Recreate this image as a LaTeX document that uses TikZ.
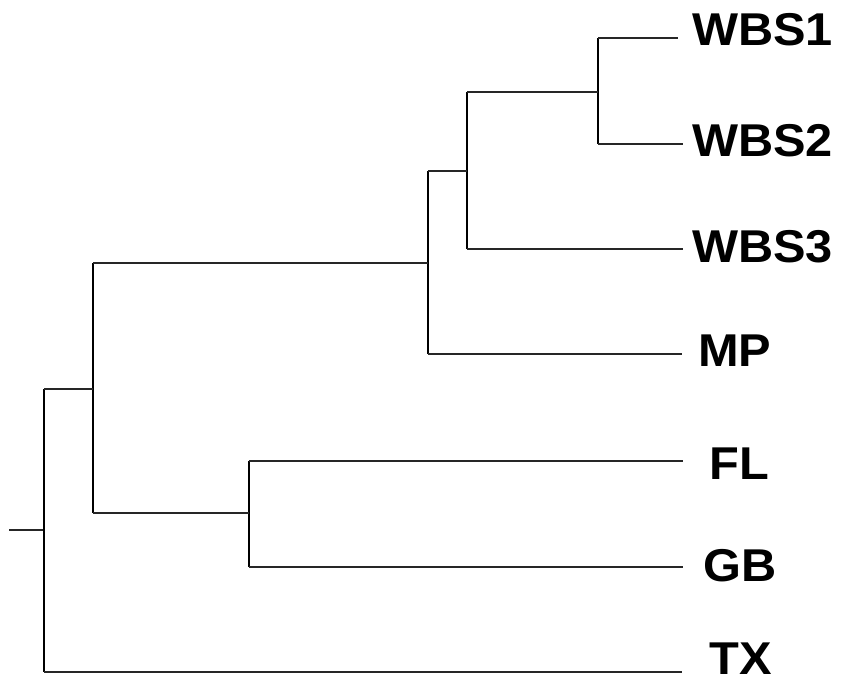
\documentclass[tikz,border=0pt]{standalone}
\usepackage{fontspec}
\setmainfont{Liberation Sans}
\begin{document}
\begin{tikzpicture}[x=1pt,y=-1pt,
  hbranch/.style={line width=1.5pt,draw=black!85},
  vbranch/.style={line width=2.6pt,draw=black},
  taxon/.style={anchor=base west,inner sep=0pt,font=\fontsize{46}{46}\selectfont\bfseries}]
\useasboundingbox (0,0) rectangle (849,679);

% internal nodes of the tree
\coordinate (root) at (44,530);
\coordinate (stub) at (9,530);
\coordinate (nA) at (93,389);
\coordinate (nB) at (428,263);
\coordinate (nC) at (467,171);
\coordinate (nD) at (598,92);
\coordinate (nE) at (249,513);

% leaf tips
\coordinate (tW1) at (678,38);
\coordinate (tW2) at (683,144);
\coordinate (tW3) at (683,249);
\coordinate (tMP) at (682,354);
\coordinate (tFL) at (683,461);
\coordinate (tGB) at (683,567);
\coordinate (tTX) at (682,672);

% taxon labels
\node[taxon] (lW1) at (692,46)  {\scalebox{1.06}[1]{WBS1}};
\node[taxon] (lW2) at (692,157) {\scalebox{1.06}[1]{WBS2}};
\node[taxon] (lW3) at (692,263) {\scalebox{1.06}[1]{WBS3}};
\node[taxon] (lMP) at (698,366) {\scalebox{1.06}[1]{MP}};
\node[taxon] (lFL) at (709,479) {\scalebox{1.06}[1]{FL}};
\node[taxon] (lGB) at (703,581) {\scalebox{1.06}[1]{GB}};
\node[taxon] (lTX) at (709,674) {\scalebox{1.06}[1]{TX}};

% root stub
\draw[hbranch] (stub) -- (root);

% vertical bars
\draw[vbranch] (root |- nA) -- (root |- tTX);
\draw[vbranch] (nA |- nB) -- (nA |- nE);
\draw[vbranch] (nB |- nC) -- (nB |- tMP);
\draw[vbranch] (nC |- nD) -- (nC |- tW3);
\draw[vbranch] (nD |- tW1) -- (nD |- tW2);
\draw[vbranch] (nE |- tFL) -- (nE |- tGB);

% horizontal branches
\draw[hbranch] (root |- nA) -- (nA);
\draw[hbranch] (root |- tTX) -- (tTX);
\draw[hbranch] (nA |- nB) -- (nB);
\draw[hbranch] (nA |- nE) -- (nE);
\draw[hbranch] (nB |- nC) -- (nC);
\draw[hbranch] (nB |- tMP) -- (tMP);
\draw[hbranch] (nC |- nD) -- (nD);
\draw[hbranch] (nC |- tW3) -- (tW3);
\draw[hbranch] (nD |- tW1) -- (tW1);
\draw[hbranch] (nD |- tW2) -- (tW2);
\draw[hbranch] (nE |- tFL) -- (tFL);
\draw[hbranch] (nE |- tGB) -- (tGB);
\end{tikzpicture}
\end{document}
